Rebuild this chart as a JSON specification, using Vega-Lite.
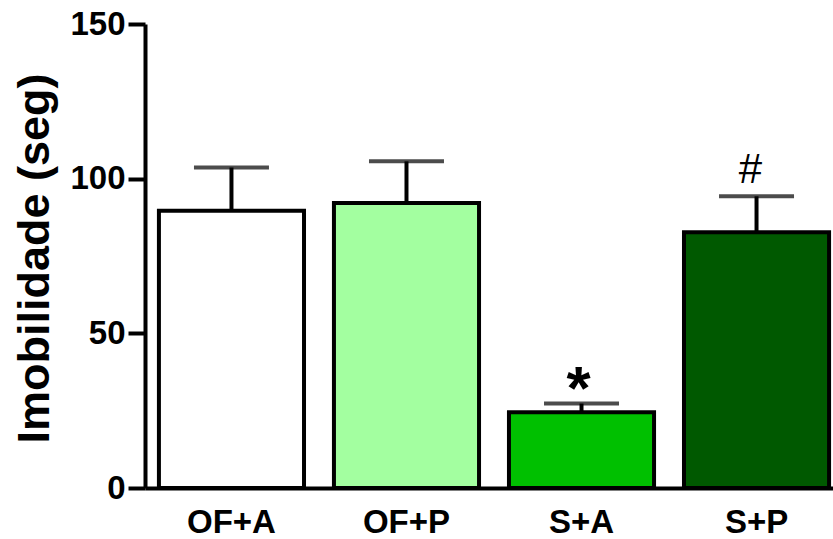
{
  "$schema": "https://vega.github.io/schema/vega-lite/v6.json",
  "width": 688,
  "height": 464,
  "autosize": {"type": "none"},
  "padding": {"left": 145, "top": 24, "right": 0, "bottom": 51},
  "background": "white",
  "config": {"view": {"stroke": null}, "font": "Liberation Sans"},
  "data": {
    "values": [
      {"group": "OF+A", "mean": 89.6, "upper": 103.6, "sig": ""},
      {"group": "OF+P", "mean": 92.1, "upper": 105.6, "sig": ""},
      {"group": "S+A", "mean": 24.5, "upper": 27.3, "sig": "*"},
      {"group": "S+P", "mean": 82.7, "upper": 94.3, "sig": "#"}
    ]
  },
  "encoding": {
    "x": {
      "field": "group",
      "type": "nominal",
      "sort": null,
      "scale": {"paddingInner": 0.171, "paddingOuter": 0.051, "align": 0.78},
      "axis": {
        "title": null,
        "labelAngle": 0,
        "labelFont": "Liberation Sans",
        "labelFontSize": 33,
        "labelFontWeight": "bold",
        "labelColor": "black",
        "ticks": false,
        "labelPadding": 18,
        "domainColor": "black",
        "domainWidth": 4
      }
    }
  },
  "layer": [
    {
      "mark": {"type": "bar", "stroke": "black", "strokeWidth": 4},
      "encoding": {
        "y": {
          "field": "mean",
          "type": "quantitative",
          "scale": {"domain": [0, 150], "nice": false},
          "axis": {
            "title": "Imobilidade (seg)",
            "values": [0, 50, 100, 150],
            "grid": false,
            "domainColor": "black",
            "domainWidth": 4,
            "tickColor": "black",
            "tickWidth": 4,
            "tickSize": 17,
            "labelFont": "Liberation Sans",
            "labelFontSize": 33,
            "labelFontWeight": "bold",
            "labelColor": "black",
            "labelPadding": 3,
            "titleFont": "Liberation Sans",
            "titleFontSize": 45,
            "titleFontWeight": "bold",
            "titleColor": "black",
            "titleX": -97,
            "titleY": 234,
            "titleAngle": -90,
            "titleAlign": "center",
            "titleBaseline": "alphabetic"
          }
        },
        "color": {
          "field": "group",
          "type": "nominal",
          "sort": null,
          "scale": {"domain": ["OF+A", "OF+P", "S+A", "S+P"], "range": ["#ffffff", "#a3ffa0", "#00c000", "#005900"]},
          "legend": null
        }
      }
    },
    {
      "mark": {"type": "rule", "color": "black", "strokeWidth": 4},
      "encoding": {
        "y": {"field": "mean", "type": "quantitative"},
        "y2": {"field": "upper"}
      }
    },
    {
      "mark": {"type": "tick", "color": "black", "thickness": 4, "size": 75, "orient": "horizontal"},
      "encoding": {
        "y": {"field": "upper", "type": "quantitative"}
      }
    },
    {
      "transform": [{"filter": "datum.sig == '*'"}],
      "mark": {"type": "text", "fontSize": 62, "fontWeight": "bold", "baseline": "alphabetic", "dy": 5, "dx": -3, "color": "black", "font": "Liberation Sans"},
      "encoding": {
        "y": {"field": "upper", "type": "quantitative"},
        "text": {"field": "sig"}
      }
    },
    {
      "transform": [{"filter": "datum.sig == '#'"}],
      "mark": {"type": "text", "fontSize": 42, "baseline": "alphabetic", "dy": -13, "dx": -6, "color": "black", "font": "Liberation Sans"},
      "encoding": {
        "y": {"field": "upper", "type": "quantitative"},
        "text": {"field": "sig"}
      }
    }
  ]
}
